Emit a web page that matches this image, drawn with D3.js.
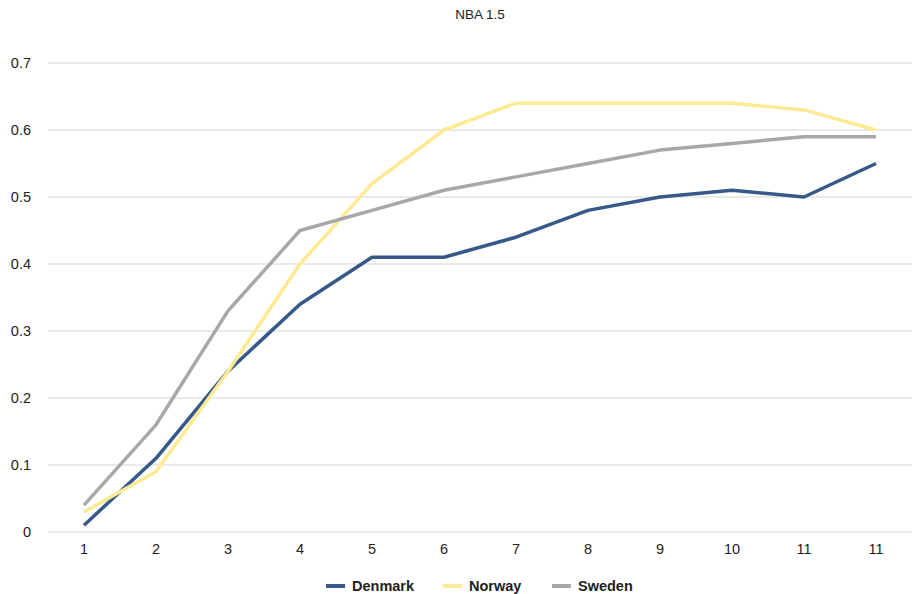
<!DOCTYPE html>
<html>
<head>
<meta charset="utf-8">
<script src="https://cdn.jsdelivr.net/npm/d3@7"></script>
<style>
  body { margin: 0; background: #fff; }
  text { font-family: "Liberation Sans", Arial, sans-serif; }
</style>
</head>
<body>
<div id="chart"></div>
<script>
// x categories (last label repeats in the source chart)
const categories = ['1', '2', '3', '4', '5', '6', '7', '8', '9', '10', '11', '11'];
const denmark = [0.01, 0.11, 0.24, 0.34, 0.41, 0.41, 0.44, 0.48, 0.50, 0.51, 0.50, 0.55];
const norway  = [0.03, 0.09, 0.24, 0.40, 0.52, 0.60, 0.64, 0.64, 0.64, 0.64, 0.63, 0.60];
const sweden  = [0.04, 0.16, 0.33, 0.45, 0.48, 0.51, 0.53, 0.55, 0.57, 0.58, 0.59, 0.59];
const yTicks = [0, 0.1, 0.2, 0.3, 0.4, 0.5, 0.6, 0.7];

const seriesList = [
  { name: 'Denmark', values: denmark, color: '#36598a' },
  { name: 'Norway', values: norway, color: '#ffea94' },
  { name: 'Sweden', values: sweden, color: '#a8a8a8' }
];

const width = 916, height = 594;
const margin = { top: 63, right: 4, bottom: 62, left: 48 };

const svg = d3.select('#chart').append('svg')
  .attr('width', width)
  .attr('height', height);

const x = d3.scaleBand()
  .domain(d3.range(categories.length))
  .range([margin.left, width - margin.right]);

const y = d3.scaleLinear()
  .domain([0, 0.7])
  .range([height - margin.bottom, margin.top]);

// Title
svg.append('text')
  .attr('x', 480)
  .attr('y', 19)
  .attr('text-anchor', 'middle')
  .attr('font-size', '13.5px')
  .attr('fill', '#222')
  .text('NBA 1.5');

// Gridlines
svg.append('g')
  .selectAll('line')
  .data(yTicks)
  .enter()
  .append('line')
  .attr('x1', margin.left)
  .attr('x2', width - margin.right)
  .attr('y1', d => y(d))
  .attr('y2', d => y(d))
  .attr('stroke', '#e3e3e3')
  .attr('stroke-width', 1.3);

// Y axis labels
const yAxis = d3.axisLeft(y)
  .tickValues(yTicks)
  .tickFormat(d => d === 0 ? '0' : d3.format('.1f')(d))
  .tickSize(0)
  .tickPadding(0);

svg.append('g')
  .attr('transform', 'translate(31,0)')
  .call(yAxis)
  .call(g => g.select('.domain').remove())
  .selectAll('text')
  .attr('font-size', '14.5px')
  .attr('font-family', '"Liberation Sans", Arial, sans-serif')
  .attr('fill', '#222');

// X axis labels
const xAxis = d3.axisBottom(x)
  .tickFormat(i => categories[i])
  .tickSize(0)
  .tickPadding(0);

svg.append('g')
  .attr('transform', `translate(0,${height - margin.bottom + 12})`)
  .call(xAxis)
  .call(g => g.select('.domain').remove())
  .selectAll('text')
  .attr('font-size', '14.5px')
  .attr('font-family', '"Liberation Sans", Arial, sans-serif')
  .attr('fill', '#222');

// Lines
const line = d3.line()
  .x((d, i) => x(i) + x.bandwidth() / 2)
  .y(d => y(d));

seriesList.forEach(s => {
  svg.append('path')
    .datum(s.values)
    .attr('d', line)
    .attr('fill', 'none')
    .attr('stroke', s.color)
    .attr('stroke-width', 3.5)
    .attr('stroke-linejoin', 'round');
});

// Legend
const legendX = [326, 443, 552];
const legend = svg.append('g').attr('transform', 'translate(0,586)');
seriesList.forEach((s, i) => {
  legend.append('line')
    .attr('x1', legendX[i])
    .attr('x2', legendX[i] + 19)
    .attr('y1', 0)
    .attr('y2', 0)
    .attr('stroke', s.color)
    .attr('stroke-width', 4);
  legend.append('text')
    .attr('x', legendX[i] + 26)
    .attr('y', 5)
    .attr('font-size', '14.5px')
    .attr('font-weight', 'bold')
    .attr('fill', '#222')
    .text(s.name);
});
</script>
</body>
</html>
